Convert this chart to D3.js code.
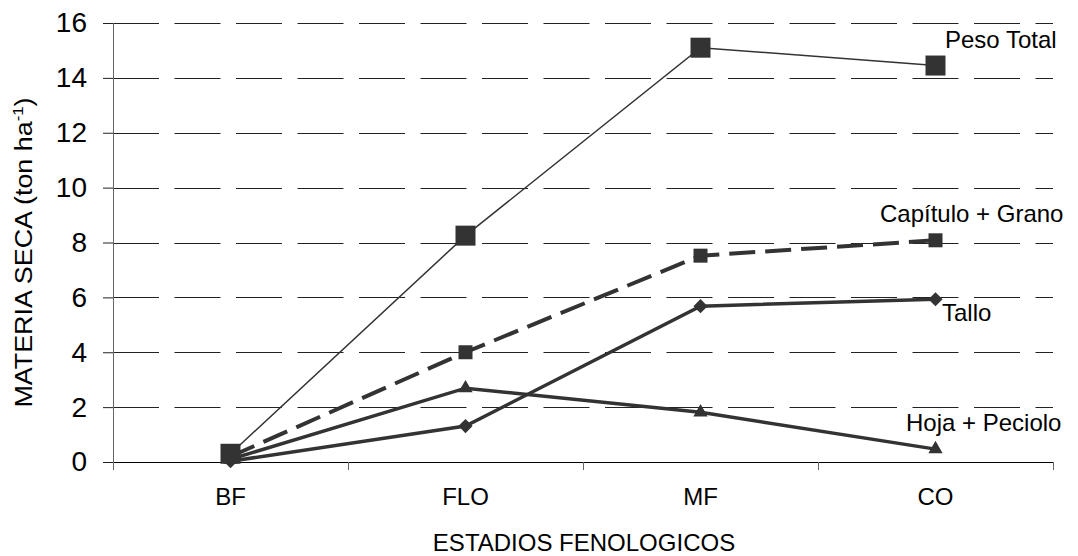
<!DOCTYPE html>
<html lang="es">
<head>
<meta charset="UTF-8">
<title>Materia seca por estadio fenológico</title>
<script src="https://d3js.org/d3.v7.min.js"></script>
<style>
  body { margin: 0; background: #fff; font-family: "Liberation Sans", Arial, sans-serif; }
  svg text { fill: #000; }
</style>
</head>
<body>
<svg width="1078" height="556"></svg>
<script>
// datos
const categories = ["BF", "FLO", "MF", "CO"];
const pesoTotal = [0.3, 8.25, 15.1, 14.45];
const capituloGrano = [0.2, 4.0, 7.52, 8.08];
const tallo = [0.03, 1.31, 5.68, 5.93];
const hojaPeciolo = [0.1, 2.69, 1.81, 0.47];
const yTicks = [0, 2, 4, 6, 8, 10, 12, 14, 16];

const series = [
  { name: "Hoja + Peciolo", values: hojaPeciolo, marker: "triangle", size: 14, width: 3.5, dash: null, lx: 906, ly: 431 },
  { name: "Tallo", values: tallo, marker: "diamond", size: 10, width: 3.5, dash: null, lx: 942, ly: 321 },
  { name: "Capítulo + Grano", values: capituloGrano, marker: "square", size: 14, width: 4, dash: "26,10", lx: 880, ly: 222 },
  { name: "Peso Total", values: pesoTotal, marker: "square", size: 20, width: 1.5, dash: null, lx: 945, ly: 48 }
];

const margin = { top: 23, right: 25, bottom: 94, left: 113 };
const W = 1078, H = 556;
const width = W - margin.left - margin.right;
const height = H - margin.top - margin.bottom;
const ink = "#333";

const svg = d3.select("svg");
const g = svg.append("g").attr("transform", `translate(${margin.left},${margin.top})`);

const x = d3.scaleBand().domain(categories).range([0, width]);
const y = d3.scaleLinear().domain([0, 16]).range([height, 0]);

// lineas de division
g.append("g")
  .selectAll("line")
  .data(yTicks.filter(d => d > 0))
  .join("line")
  .attr("x1", 0).attr("x2", width)
  .attr("y1", d => Math.round(y(d)) + 0.5).attr("y2", d => Math.round(y(d)) + 0.5)
  .attr("stroke", "#222").attr("stroke-width", 1.2)
  .attr("stroke-dasharray", "46,15.5");

// eje Y
const yAxis = g.append("g")
  .call(d3.axisLeft(y).tickValues(yTicks).tickSize(10).tickPadding(16));
yAxis.select(".domain").attr("stroke", "#666").attr("d", `M0.5,0V${height + 8}`);
yAxis.selectAll(".tick line").attr("stroke", "#222");
yAxis.selectAll("text").attr("font-size", 28).attr("font-family", "Liberation Sans, Arial, sans-serif");

// eje X
const xAxis = g.append("g")
  .attr("transform", `translate(0,${height})`)
  .call(d3.axisBottom(x).tickSize(0).tickPadding(26));
xAxis.select(".domain").attr("stroke", "#000").attr("d", `M0,0.5H${width}`);
xAxis.selectAll("text").attr("font-size", 24).attr("font-family", "Liberation Sans, Arial, sans-serif");
xAxis.selectAll(".sep")
  .data(d3.range(categories.length + 1))
  .join("line")
  .attr("class", "sep")
  .attr("x1", i => Math.round(i * x.step()) + 0.5).attr("x2", i => Math.round(i * x.step()) + 0.5)
  .attr("y1", 0).attr("y2", 8)
  .attr("stroke", "#666");

const cx = c => x(c) + x.bandwidth() / 2;
const line = d3.line().x((d, i) => cx(categories[i])).y(d => y(d));

const symbolOf = {
  square: d3.symbolSquare,
  diamond: d3.symbolSquare,
  triangle: d3.symbolTriangle
};

series.forEach(s => {
  g.append("path")
    .datum(s.values)
    .attr("fill", "none")
    .attr("stroke", ink)
    .attr("stroke-width", s.width)
    .attr("stroke-dasharray", s.dash)
    .attr("d", line);

  const sz = s.marker === "triangle" ? s.size * s.size * 0.45 : s.size * s.size;
  g.selectAll(null)
    .data(s.values)
    .join("path")
    .attr("fill", ink)
    .attr("d", d3.symbol().type(symbolOf[s.marker]).size(sz))
    .attr("transform", (d, i) => `translate(${cx(categories[i])},${y(d)})` + (s.marker === "diamond" ? " rotate(45)" : ""));

  svg.append("text")
    .attr("x", s.lx).attr("y", s.ly)
    .attr("font-size", 24)
    .text(s.name);
});

// titulos
svg.append("text")
  .attr("x", margin.left + width / 2 + 1)
  .attr("y", 551)
  .attr("text-anchor", "middle")
  .attr("font-size", 24)
  .text("ESTADIOS FENOLOGICOS");

const yt = svg.append("text")
  .attr("transform", `translate(32,${margin.top + height / 2 + 10}) rotate(-90) scale(1.12,1)`)
  .attr("text-anchor", "middle")
  .attr("font-size", 24);
yt.append("tspan").text("MATERIA SECA (ton ha");
yt.append("tspan").attr("font-size", 15).attr("dy", -9).text("-1");
yt.append("tspan").attr("dy", 9).text(")");
</script>
</body>
</html>
